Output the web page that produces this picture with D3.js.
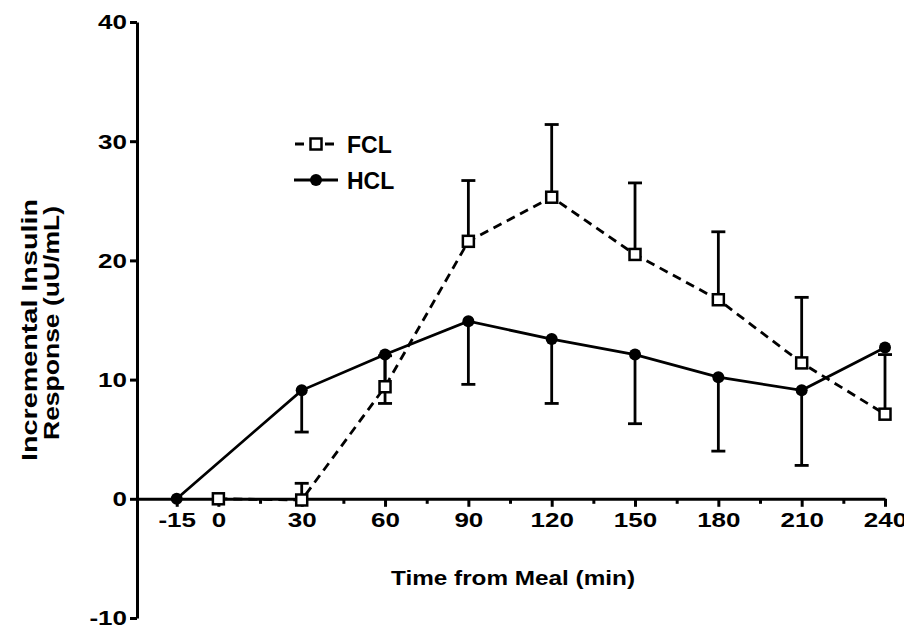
<!DOCTYPE html>
<html>
<head>
<meta charset="utf-8">
<script src="https://cdn.jsdelivr.net/npm/d3@7"></script>
<style>
  body { margin: 0; background: #fff; }
  svg text { font-family: Arial, 'Liberation Sans', sans-serif; font-weight: bold; fill: #000; }
</style>
</head>
<body>
<div id="chart"></div>
<script>
// ---- data ----
const hclTimes = [-15, 30, 60, 90, 120, 150, 180, 210, 240];
const hclMean  = [0, 9.1, 12.1, 14.9, 13.4, 12.1, 10.2, 9.1, 12.7];
const hclErr   = [0, 3.5, 4.1, 5.3, 5.4, 5.8, 6.2, 6.3, 0];   // drawn downward

const fclTimes = [0, 30, 60, 90, 120, 150, 180, 210, 240];
const fclMean  = [0, -0.1, 9.4, 21.6, 25.3, 20.5, 16.7, 11.4, 7.1];
const fclErr   = [0, 1.4, 2.6, 5.1, 6.1, 6.0, 5.7, 5.5, 5.0];  // drawn upward

const xMajorTicks = [-15, 0, 30, 60, 90, 120, 150, 180, 210, 240];
const xMinorTicks = [15, 45, 75, 105, 135, 165, 195, 225];
const yTicks = [-10, 0, 10, 20, 30, 40];

const W = 904, H = 627;
const svg = d3.select('#chart').append('svg')
  .attr('width', W).attr('height', H);

const x = d3.scaleLinear().domain([-29.3, 240]).range([137, 885]);
const y = d3.scaleLinear().domain([-10, 40]).range([618, 22]);

const hcl = hclTimes.map((t, i) => ({ t, v: hclMean[i], e: hclErr[i] }));
const fcl = fclTimes.map((t, i) => ({ t, v: fclMean[i], e: fclErr[i] }));

const plainNum = d => String(d);   // hyphen minus, like the original

// stretch helper – the original lettering is wider than Arial
function widen(sel, k) {
  sel.each(function () {
    const len = this.getComputedTextLength();
    d3.select(this).attr('textLength', len * k).attr('lengthAdjust', 'spacingAndGlyphs');
  });
}

// ----- axes -----
const gy = svg.append('g').attr('transform', `translate(${x.range()[0]},0)`)
  .call(d3.axisLeft(y).tickValues(yTicks).tickFormat(plainNum)
    .tickSize(7).tickSizeOuter(0).tickPadding(3));
gy.select('.domain').attr('stroke-width', 3);
gy.selectAll('.tick line').attr('stroke-width', 3);
gy.selectAll('.tick text').attr('font-size', 20).attr('font-family', null).attr('dy', '0.34em');
widen(gy.selectAll('.tick text'), 1.3);

const gxMinor = svg.append('g').attr('transform', `translate(0,${y(0)})`)
  .call(d3.axisBottom(x).tickValues(xMinorTicks).tickSize(5).tickSizeOuter(0).tickFormat(''));
gxMinor.select('.domain').remove();
gxMinor.selectAll('.tick line').attr('stroke-width', 3);

const gx = svg.append('g').attr('transform', `translate(0,${y(0)})`)
  .call(d3.axisBottom(x).tickValues(xMajorTicks).tickFormat(plainNum)
    .tickSize(8).tickSizeOuter(0).tickPadding(6));
gx.select('.domain').attr('stroke-width', 3);
gx.selectAll('.tick line').attr('stroke-width', 3);
gx.selectAll('.tick text').attr('font-size', 20).attr('font-family', null);
widen(gx.selectAll('.tick text'), 1.3);

// axis titles
svg.append('text')
  .attr('x', 513).attr('y', 585)
  .attr('text-anchor', 'middle')
  .attr('font-size', 20)
  .attr('textLength', 244).attr('lengthAdjust', 'spacingAndGlyphs')
  .text('Time from Meal (min)');

svg.append('text')
  .attr('transform', 'translate(37,330) rotate(-90)')
  .attr('text-anchor', 'middle')
  .attr('font-size', 22)
  .attr('textLength', 262).attr('lengthAdjust', 'spacingAndGlyphs')
  .text('Incremental Insulin');
svg.append('text')
  .attr('transform', 'translate(59,323) rotate(-90)')
  .attr('text-anchor', 'middle')
  .attr('font-size', 22)
  .attr('textLength', 234).attr('lengthAdjust', 'spacingAndGlyphs')
  .text('Response (uU/mL)');

// ----- error bars -----
const cap = 7;
function errBars(data, dir) {
  const g = svg.append('g').attr('stroke', '#000').attr('stroke-width', 2.8);
  const d = data.filter(p => p.e > 0);
  g.selectAll('line.v').data(d).join('line')
    .attr('x1', p => x(p.t)).attr('x2', p => x(p.t))
    .attr('y1', p => y(p.v)).attr('y2', p => y(p.v + dir * p.e));
  g.selectAll('line.c').data(d).join('line')
    .attr('x1', p => x(p.t) - cap).attr('x2', p => x(p.t) + cap)
    .attr('y1', p => y(p.v + dir * p.e)).attr('y2', p => y(p.v + dir * p.e));
}
errBars(hcl, -1);
errBars(fcl, 1);

// ----- lines -----
const line = d3.line().x(p => x(p.t)).y(p => y(p.v));
svg.append('path').datum(fcl)
  .attr('d', line).attr('fill', 'none')
  .attr('stroke', '#000').attr('stroke-width', 2.8).attr('stroke-dasharray', '9,6');
svg.append('path').datum(hcl)
  .attr('d', line).attr('fill', 'none')
  .attr('stroke', '#000').attr('stroke-width', 2.8);

// ----- markers -----
svg.append('g').selectAll('rect').data(fcl).join('rect')
  .attr('x', p => x(p.t) - 5.5).attr('y', p => y(p.v) - 5.5)
  .attr('width', 11).attr('height', 11)
  .attr('fill', '#fff').attr('stroke', '#000').attr('stroke-width', 2.5);
svg.append('g').selectAll('circle').data(hcl).join('circle')
  .attr('cx', p => x(p.t)).attr('cy', p => y(p.v)).attr('r', 6)
  .attr('fill', '#000');

// ----- legend -----
const leg = svg.append('g');
leg.append('line').attr('x1', 295).attr('x2', 340).attr('y1', 144).attr('y2', 144)
  .attr('stroke', '#000').attr('stroke-width', 2.8).attr('stroke-dasharray', '9,6');
leg.append('rect').attr('x', 316 - 5.5).attr('y', 144 - 5.5).attr('width', 11).attr('height', 11)
  .attr('fill', '#fff').attr('stroke', '#000').attr('stroke-width', 2.5);
leg.append('text').attr('x', 347).attr('y', 153).attr('font-size', 23).text('FCL');

leg.append('line').attr('x1', 294).attr('x2', 338).attr('y1', 180).attr('y2', 180)
  .attr('stroke', '#000').attr('stroke-width', 2.8);
leg.append('circle').attr('cx', 316).attr('cy', 180).attr('r', 6).attr('fill', '#000');
leg.append('text').attr('x', 347).attr('y', 189).attr('font-size', 23).text('HCL');
</script>
</body>
</html>
